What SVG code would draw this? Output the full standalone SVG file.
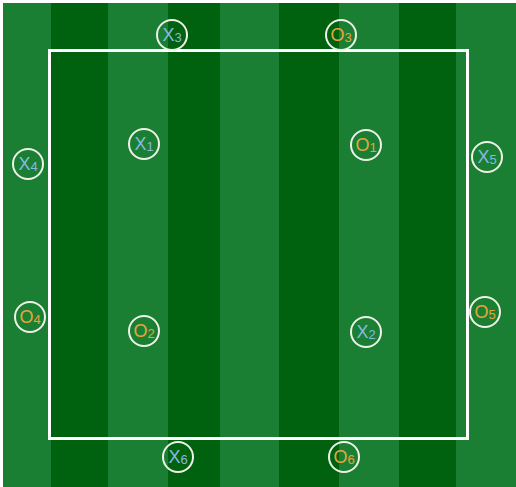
<svg xmlns="http://www.w3.org/2000/svg" width="516" height="487" viewBox="0 0 516 487">
<style>
.l{fill:#1a7f32}
.d{fill:#00620f}
.p circle{fill:none;stroke:#eef2e6;stroke-width:2}
.p text{font-family:"Liberation Sans",Arial,sans-serif;font-size:18px;text-anchor:middle}
.x text{fill:#86b9e3}
.o text{fill:#e6a53c}
.s{font-size:13px}
</style>
<rect width="516" height="487" fill="#ffffff"/>
<g id="field">
<rect class="l" x="3" y="3" width="48" height="484"/>
<rect class="d" x="51" y="3" width="57" height="484"/>
<rect class="l" x="108" y="3" width="60" height="484"/>
<rect class="d" x="168" y="3" width="52" height="484"/>
<rect class="l" x="220" y="3" width="59" height="484"/>
<rect class="d" x="279" y="3" width="60" height="484"/>
<rect class="l" x="339" y="3" width="60" height="484"/>
<rect class="d" x="399" y="3" width="57" height="484"/>
<rect class="l" x="456" y="3" width="60" height="484"/>
<rect x="49.5" y="50.5" width="418" height="388" fill="none" stroke="#ffffff" stroke-width="3"/>
</g>
<g id="X3" class="p x"><circle cx="172" cy="35" r="15"/><text x="172" y="41">X<tspan class="s" dy="1">3</tspan></text></g>
<g id="O3" class="p o"><circle cx="341" cy="35" r="15"/><text x="341" y="41">O<tspan class="s" dy="1">3</tspan></text></g>
<g id="X1" class="p x"><circle cx="144" cy="144" r="15"/><text x="144" y="150">X<tspan class="s" dy="1">1</tspan></text></g>
<g id="O1" class="p o"><circle cx="366" cy="145" r="15"/><text x="366" y="151">O<tspan class="s" dy="1">1</tspan></text></g>
<g id="X4" class="p x"><circle cx="28" cy="164" r="15"/><text x="28" y="170">X<tspan class="s" dy="1">4</tspan></text></g>
<g id="X5" class="p x"><circle cx="487" cy="157" r="15"/><text x="487" y="163">X<tspan class="s" dy="1">5</tspan></text></g>
<g id="O4" class="p o"><circle cx="30" cy="317" r="15"/><text x="30" y="323">O<tspan class="s" dy="1">4</tspan></text></g>
<g id="O2" class="p o"><circle cx="144" cy="331" r="15"/><text x="144" y="337">O<tspan class="s" dy="1">2</tspan></text></g>
<g id="X2" class="p x"><circle cx="366" cy="332" r="15"/><text x="366" y="338">X<tspan class="s" dy="1">2</tspan></text></g>
<g id="O5" class="p o"><circle cx="485" cy="312" r="15"/><text x="485" y="318">O<tspan class="s" dy="1">5</tspan></text></g>
<g id="X6" class="p x"><circle cx="178" cy="457" r="15"/><text x="178" y="463">X<tspan class="s" dy="1">6</tspan></text></g>
<g id="O6" class="p o"><circle cx="344" cy="457" r="15"/><text x="344" y="463">O<tspan class="s" dy="1">6</tspan></text></g>
<g id="connectors"/>
</svg>
